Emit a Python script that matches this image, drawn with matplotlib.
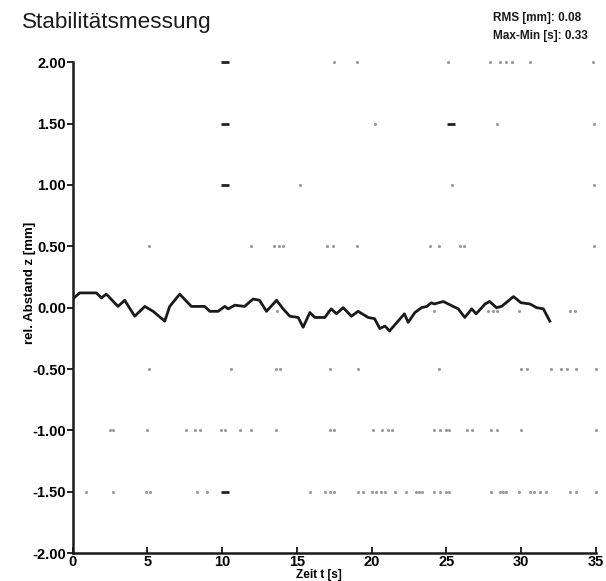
import numpy as np
import matplotlib
matplotlib.use("Agg")
from matplotlib import pyplot as plt

# Messkurve
t = [0.0, 0.46, 1.58, 1.92, 2.25, 3.03, 3.48, 4.15, 4.82, 5.38, 6.16, 6.49, 7.16, 7.94,
     8.83, 9.17, 9.73, 10.18, 10.4, 10.85, 11.5, 12.07, 12.5, 12.97, 13.64, 14.08, 14.53,
     15.09, 15.42, 15.87, 16.2, 16.87, 17.3, 17.65, 18.1, 18.65, 19.1, 19.77, 20.2, 20.55,
     20.9, 21.2, 22.2, 22.45, 22.9, 23.35, 23.7, 24.0, 24.2, 24.8, 25.46, 25.8, 26.24, 26.7,
     27.0, 27.6, 27.9, 28.36, 28.7, 29.5, 30.0, 30.6, 31.04, 31.5, 31.93]
z = [0.07, 0.12, 0.12, 0.08, 0.11, 0.01, 0.06, -0.07, 0.01, -0.03, -0.11, 0.01, 0.11, 0.01,
     0.01, -0.03, -0.03, 0.01, -0.01, 0.02, 0.01, 0.07, 0.06, -0.03, 0.06, -0.01, -0.07,
     -0.08, -0.16, -0.04, -0.08, -0.08, -0.01, -0.05, 0.0, -0.07, -0.03, -0.08, -0.09, -0.17,
     -0.15, -0.19, -0.05, -0.12, -0.04, 0.0, 0.01, 0.04, 0.03, 0.05, 0.01, -0.01, -0.08, -0.01,
     -0.05, 0.03, 0.05, 0.0, 0.01, 0.09, 0.04, 0.03, 0.0, -0.01, -0.11]

# Rasterpunkte (Reste eines punktierten Gitters)
dots_200 = [17.5, 19.0, 25.1, 27.9, 28.6, 29.0, 29.4, 30.6, 34.8]
dots_150 = [20.2, 28.4, 34.9]
dots_100 = [15.2, 25.4, 34.9]
dots_050 = [5.1, 11.9, 13.5, 13.8, 14.1, 17.0, 17.4, 19.0, 23.9, 24.5, 25.9, 26.2, 34.9]
dots_000 = [13.7, 17.1, 24.2, 27.8, 28.1, 28.4, 29.9, 33.3, 33.6]
dots_m050 = [5.1, 10.6, 13.6, 13.9, 17.2, 19.1, 24.5, 30.0, 30.4, 32.0, 32.7, 33.1, 33.7, 35.0]
dots_m100 = [2.5, 2.7, 5.0, 7.6, 8.2, 8.5, 9.9, 10.2, 11.2, 11.9, 13.6, 17.2, 17.5, 20.1,
             20.7, 21.1, 21.4, 24.2, 24.6, 25.0, 25.2, 26.4, 26.7, 28.0, 28.4, 30.0, 35.0]
dots_m150 = [0.9, 2.7, 4.9, 5.2, 8.3, 9.0, 15.9, 16.9, 17.2, 17.5, 19.1, 19.4, 20.0, 20.3,
             20.6, 20.9, 21.6, 22.3, 23.0, 23.2, 23.4, 24.2, 24.6, 25.0, 25.2, 28.0, 28.6,
             28.8, 29.0, 29.9, 30.6, 30.9, 31.3, 31.7, 33.3, 33.7, 35.0]
dash_t = [10.2, 10.2, 10.2, 25.3, 10.2]
dash_z = [2.0, 1.5, 1.0, 1.5, -1.5]

xticks = [0, 5, 10, 15, 20, 25, 30, 35]
yticks = [2.0, 1.5, 1.0, 0.5, 0.0, -0.5, -1.0, -1.5, -2.0]

plt.rcParams['font.family'] = ['Liberation Sans', 'DejaVu Sans']

fig = plt.figure(figsize=(6.06, 5.81), dpi=100)
ax = fig.add_axes([0.12, 0.048, 0.863, 0.845])

rows = [(2.0, dots_200), (1.5, dots_150), (1.0, dots_100), (0.5, dots_050),
        (-0.03, dots_000), (-0.5, dots_m050), (-1.0, dots_m100), (-1.5, dots_m150)]
for level, xs in rows:
    ax.plot(xs, [level] * len(xs), linestyle='none', marker='.', markersize=2.5,
            color='#9a9a9a', clip_on=False)
ax.plot(dash_t, dash_z, linestyle='none', marker='_', markersize=6, mew=2,
        color='#222222', clip_on=False)

ax.plot(t, z, color='#1a1a1a', linewidth=2.0)

ax.set_xlim(0, 35)
ax.set_ylim(-2.0, 2.0)
ax.set_xticks(xticks)
ax.set_xticklabels([str(v) for v in xticks], fontsize=10.5, fontweight='bold')
ax.set_yticks(yticks)
ax.set_yticklabels(['%.2f' % v for v in yticks], fontsize=10.5, fontweight='bold')
ax.tick_params(axis='x', direction='in', length=4, width=1.2, pad=1)
ax.tick_params(axis='y', direction='out', length=4, width=1.2, pad=1)
for s in ['top', 'right']:
    ax.spines[s].set_visible(False)
for s in ['left', 'bottom']:
    ax.spines[s].set_linewidth(1.8)
    ax.spines[s].set_color('#1a1a1a')

ax.set_xlabel('Zeit t [s]', fontsize=8.5, fontweight='bold')
ax.xaxis.set_label_coords(0.47, -0.032)
ax.set_ylabel('rel. Abstand z [mm]', fontsize=9.5, fontweight='bold')
ax.yaxis.set_label_coords(-0.07, 0.55)

fig.text(0.036, 0.962, 'Stabilitätsmessung', fontsize=16.2, va='center', ha='left',
         color='#1a1a1a')
fig.text(0.813, 0.927, 'RMS [mm]: 0.08\nMax-Min [s]: 0.33', fontsize=8.5,
         fontweight='bold', va='bottom', ha='left', linespacing=1.75, color='#1a1a1a')

fig.savefig('out.png', dpi=100)
